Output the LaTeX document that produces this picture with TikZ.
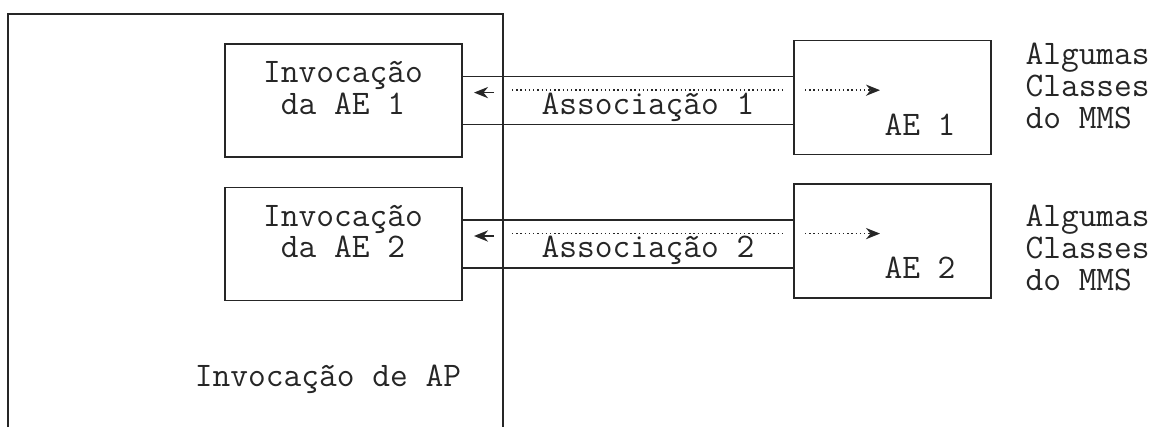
\documentclass[tikz,border=0pt]{standalone}
\usepackage{tikz}
\usetikzlibrary{arrows.meta}

\begin{document}
\begin{tikzpicture}[>={Stealth[length=10pt,width=8pt]}, font=\ttfamily\fontsize{24.5}{22.5}\selectfont,
		line width=1.2pt, color=black!85,
		caixa/.style={draw, rectangle, inner sep=0pt},
		canal/.style={draw, rectangle, inner sep=0pt, minimum width=8.3cm, minimum height=1.2cm}]
		\useasboundingbox (0,0) rectangle (29,10.675);
		% AP invocation, open at the bottom
		\draw (0.2,0) |- (12.575,10.325) -- (12.575,0);
		\node (ap) at (8.2,1.2) {Invocação de AP};
		% one row per AE: \y = row height, \t = height of the MMS label
		\foreach \i/\y/\t in {1/8.16/8.525, 2/4.575/4.475} {
			\node[caixa, minimum width=5.925cm, minimum height=2.825cm] (inv\i) at (8.5875,\y) {};
			\node[align=center] (txinv\i) at (8.575,\y+0.31) {Invocação\\da AE \i};
			\node[caixa, minimum width=4.925cm, minimum height=2.85cm] (ae\i) at (22.3125,\y+0.075) {};
			\node (txae\i) at (23.0,\y-0.6) {AE \i};
			\node[canal] (canal\i) at (15.7,\y) {};
			\node (assoc\i) at (16.2,\y-0.16) {Associação \i};
			\draw[->] (12.35,\y+0.2) -- (11.85,\y+0.2);
			\draw[dotted, line width=1pt] (12.8,\y+0.26) -- (19.575,\y+0.26);
			\draw[->, dotted, line width=1pt] (20.125,\y+0.26) -- (22.0,\y+0.26);
			\node[align=left, anchor=west] (mms\i) at (25.5,\t) {Algumas\\Classes\\do MMS};
		}
	\end{tikzpicture}
\end{document}
